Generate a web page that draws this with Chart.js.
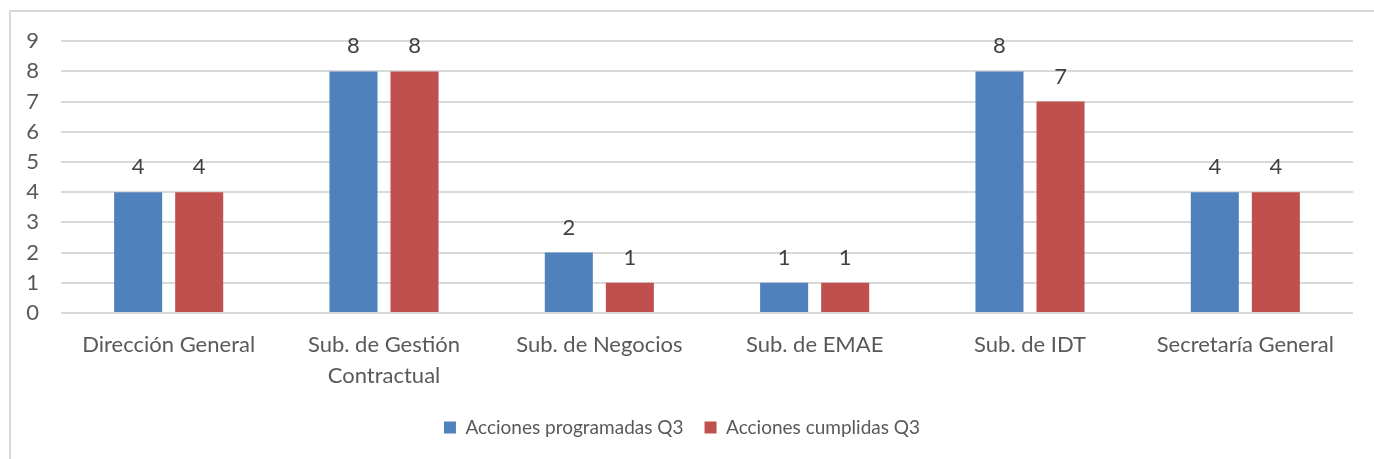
<!DOCTYPE html>
<html>
<head>
<meta charset="utf-8">
<script src="https://cdn.jsdelivr.net/npm/chart.js@4/dist/chart.umd.min.js"></script>
<style>
    html, body { margin: 0; padding: 0; background: #fff; }
    #frame {
        position: absolute; left: 9px; top: 10px;
        width: 1365px; height: 449px;
        border-top: 2px solid #d9d9d9; border-left: 2px solid #d9d9d9;
        box-sizing: border-box;
    }
    #box { position: absolute; left: 0; top: -6px; width: 1363px; height: 453px; }
    canvas { display: block; }
</style>
</head>
<body>
<div id="frame"><div id="box"><canvas id="chart"></canvas></div></div>
<script>
// ── Data ────────────────────────────────────────────────────────
const categories = [
    'Dirección General',
    ['Sub. de Gestión', 'Contractual'],
    'Sub. de Negocios',
    'Sub. de EMAE',
    'Sub. de IDT',
    'Secretaría General',
];
const programadas = [4, 8, 2, 1, 8, 4];
const cumplidas = [4, 8, 1, 1, 7, 4];
const yTicks = [0, 1, 2, 3, 4, 5, 6, 7, 8, 9];

const FONT = "Lato, 'Open Sans', sans-serif";
const GRID = '#d9d9d9';

// values above bars
const barValues = {
    id: 'barValues',
    afterDatasetsDraw(chart) {
        const { ctx } = chart;
        ctx.save();
        ctx.font = `22px ${FONT}`;
        ctx.fillStyle = '#404040';
        ctx.textAlign = 'center';
        ctx.textBaseline = 'middle';
        chart.data.datasets.forEach((ds, i) => {
            chart.getDatasetMeta(i).data.forEach((bar, j) => {
                ctx.fillText(String(ds.data[j]), bar.x, bar.y - 25);
            });
        });
        ctx.restore();
    }
};

new Chart(document.getElementById('chart'), {
    type: 'bar',
    data: {
        labels: categories,
        datasets: [
            { label: 'Acciones programadas Q3', data: programadas, backgroundColor: '#4f81bd' },
            { label: 'Acciones cumplidas Q3', data: cumplidas, backgroundColor: '#c0504d' },
        ],
    },
    options: {
        responsive: true,
        maintainAspectRatio: false,
        animation: false,
        categoryPercentage: 0.567,
        barPercentage: 0.787,
        layout: { padding: { top: 0, right: 21, left: 0, bottom: 12 } },
        plugins: {
            legend: {
                position: 'bottom',
                labels: {
                    font: { family: FONT, size: 19 },
                    color: '#595959',
                    boxWidth: 12,
                    boxHeight: 12,
                    padding: 21,
                },
            },
            tooltip: { enabled: false },
        },
        scales: {
            x: {
                grid: { display: false },
                border: { display: false },
                ticks: { font: { family: FONT, size: 22, lineHeight: 1.4 }, color: '#595959', padding: 9, maxRotation: 0 },
                afterFit: (s) => { s.height = 84; },
            },
            y: {
                min: 0,
                max: 9,
                afterBuildTicks: (s) => { s.ticks = yTicks.map(v => ({ value: v })); },
                grid: { color: GRID, lineWidth: 2, drawTicks: false },
                border: { display: false },
                ticks: { font: { family: FONT, size: 22 }, color: '#595959', padding: 22 },
                afterFit: (s) => { s.width = 50; },
            },
        },
    },
    plugins: [barValues],
});
</script>
</body>
</html>
